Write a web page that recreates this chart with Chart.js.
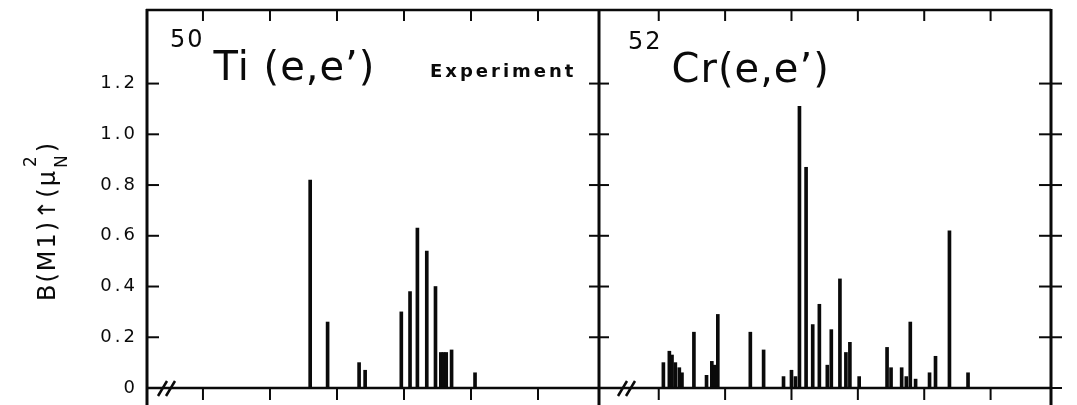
<!DOCTYPE html>
<html>
<head>
<meta charset="utf-8">
<script src="https://cdn.jsdelivr.net/npm/chart.js@4.4.0/dist/chart.umd.min.js"></script>
<style>
  html, body { margin: 0; padding: 0; background: #fff; }
  #wrap { position: relative; width: 1077px; height: 405px; overflow: hidden; background: #fff; }
  #ti { position: absolute; left: 0; top: 0; }
  #cr { position: absolute; left: 599px; top: 0; }
</style>
</head>
<body>
<div id="wrap">
  <canvas id="ti" width="620" height="405"></canvas>
  <canvas id="cr" width="478" height="405"></canvas>
</div>
<script>
// M1 strength distributions, excitation energy in MeV
const tiEnergy   = [8.60, 8.86, 9.33, 9.42, 9.96, 10.09, 10.20, 10.34, 10.47, 10.55, 10.59, 10.63, 10.71, 11.06];
const tiStrength = [0.82, 0.26, 0.10, 0.07, 0.30, 0.38, 0.63, 0.54, 0.40, 0.14, 0.14, 0.14, 0.15, 0.06];

const crEnergy   = [7.07, 7.16, 7.20, 7.25, 7.31, 7.35, 7.53, 7.72, 7.80, 7.84, 7.89, 8.38, 8.58,
                    8.88, 9.00, 9.06, 9.12, 9.22, 9.32, 9.42, 9.54, 9.60, 9.73, 9.82, 9.88, 10.02,
                    10.44, 10.50, 10.66, 10.73, 10.79, 10.87, 11.08, 11.17, 11.38, 11.66];
const crStrength = [0.10, 0.145, 0.13, 0.10, 0.08, 0.06, 0.22, 0.05, 0.105, 0.09, 0.29, 0.22, 0.15,
                    0.045, 0.07, 0.045, 1.11, 0.87, 0.25, 0.33, 0.09, 0.23, 0.43, 0.14, 0.18, 0.045,
                    0.16, 0.08, 0.08, 0.045, 0.26, 0.035, 0.06, 0.125, 0.62, 0.06];

const energyTicks   = [7, 8, 9, 10, 11, 12];
const strengthTicks = [0, 0.2, 0.4, 0.6, 0.8, 1.0, 1.2];

const ink = '#0a0a0a';
const font = '"DejaVu Sans", sans-serif';

function line(ctx, x1, y1, x2, y2) {
  ctx.beginPath();
  ctx.moveTo(x1, y1);
  ctx.lineTo(x2, y2);
  ctx.stroke();
}

// box, ticks and the "//" axis break, all placed from the chart's scales
function drawFrame(chart, panel) {
  const { ctx, chartArea: a, scales: { x, y } } = chart;
  const H = chart.height;
  const y0 = y.getPixelForValue(0);
  ctx.save();
  ctx.letterSpacing = '0px';
  ctx.strokeStyle = ink;
  ctx.lineCap = 'butt';

  ctx.lineWidth = 2.5;
  line(ctx, a.left, a.top, a.right, a.top);
  line(ctx, a.left, y0, a.right, y0);

  ctx.lineWidth = 2;
  energyTicks.forEach(e => {
    const px = x.getPixelForValue(e);
    line(ctx, px, a.top, px, a.top + 11);
    line(ctx, px, y0, px, y0 + 12);
  });

  ctx.lineWidth = 3;
  if (panel === 'left') {
    line(ctx, a.left + 1, a.top - 1, a.left + 1, H);
    line(ctx, a.right, a.top - 1, a.right, H);
    ctx.lineWidth = 2;
    strengthTicks.forEach(v => {
      const py = y.getPixelForValue(v);
      line(ctx, a.left, py, a.left + 13, py);
      line(ctx, a.right - 10, py, a.right + 10, py);
    });
  } else {
    line(ctx, a.right, a.top - 1, a.right, H);
    ctx.lineWidth = 2;
    strengthTicks.forEach(v => {
      const py = y.getPixelForValue(v);
      line(ctx, a.right - 12, py, a.right + 11, py);
    });
  }

  // axis break
  const bx = a.left + (panel === 'left' ? 12 : 19);
  ctx.lineWidth = 2.5;
  line(ctx, bx, y0 + 8, bx + 9, y0 - 7);
  line(ctx, bx + 8, y0 + 8, bx + 17, y0 - 7);
  ctx.restore();
}

function drawTitle(ctx, sup, main, x, base, spacing) {
  ctx.save();
  ctx.fillStyle = ink;
  ctx.textBaseline = 'alphabetic';
  ctx.textAlign = 'left';
  ctx.letterSpacing = '2px';
  ctx.font = '24px ' + font;
  ctx.fillText(sup, x, base - 33);
  const w = ctx.measureText(sup).width;
  ctx.letterSpacing = spacing;
  ctx.font = '40px ' + font;
  ctx.fillText(main, x + w + 9, base);
  ctx.restore();
}

function drawYTitle(ctx) {
  ctx.save();
  ctx.translate(55, 301);
  ctx.rotate(-Math.PI / 2);
  ctx.fillStyle = ink;
  ctx.textBaseline = 'alphabetic';
  ctx.textAlign = 'left';
  ctx.letterSpacing = '2px';
  ctx.font = '24px ' + font;
  const head = 'B(M1)\u2191(\u03bc';
  ctx.fillText(head, 0, 0);
  let cx = ctx.measureText(head).width + 1;
  ctx.letterSpacing = '0px';
  ctx.font = '17px ' + font;
  ctx.fillText('N', cx, 12);
  ctx.fillText('2', cx + 1, -19);
  cx += ctx.measureText('N').width + 3;
  ctx.font = '24px ' + font;
  ctx.fillText(')', cx, 0);
  ctx.restore();
}

const tiDecor = {
  id: 'tiDecor',
  beforeDraw(chart) { chart.ctx.letterSpacing = '3px'; },
  afterDraw(chart) {
    const { ctx, chartArea: a } = chart;
    drawFrame(chart, 'left');
    drawTitle(ctx, '50', 'Ti (e,e\u2019)', a.left + 24, 80, '1px');
    ctx.save();
    ctx.fillStyle = ink;
    ctx.font = 'bold 18px ' + font;
    ctx.letterSpacing = '3px';
    ctx.fillText('Experiment', a.left + 284, 77);
    ctx.restore();
    drawYTitle(ctx);
  }
};

const crDecor = {
  id: 'crDecor',
  afterDraw(chart) {
    drawFrame(chart, 'right');
    drawTitle(chart.ctx, '52', 'Cr(e,e\u2019)', chart.chartArea.left + 29, 82, '1px');
  }
};

function points(xs, ys) {
  return xs.map((e, i) => ({ x: e, y: ys[i] }));
}

function buildPanel(canvas, xs, ys, range, left) {
  return new Chart(canvas, {
    type: 'bar',
    data: {
      datasets: [{
        data: points(xs, ys),
        backgroundColor: ink,
        borderWidth: 0,
        barThickness: 3
      }]
    },
    options: {
      responsive: false,
      animation: false,
      devicePixelRatio: 1,
      layout: {
        padding: left
          ? { top: 10, right: 21, bottom: 17, left: 0 }
          : { top: 10, right: 26, bottom: 17, left: 0 }
      },
      plugins: {
        legend: { display: false },
        tooltip: { enabled: false }
      },
      scales: {
        x: {
          type: 'linear',
          offset: false,
          min: range[0],
          max: range[1],
          display: false
        },
        y: {
          min: 0,
          max: 1.49,
          display: left,
          afterFit: scale => {
            scale.width = left ? 146 : 0;
            scale.paddingTop = 0;
            scale.paddingBottom = 0;
          },
          afterBuildTicks: scale => {
            scale.ticks = strengthTicks.map(v => ({ value: v }));
          },
          grid: { display: false, drawTicks: false },
          border: { display: false },
          ticks: {
            padding: 8,
            color: ink,
            font: { family: 'DejaVu Sans', size: 18 },
            callback: v => (v === 0 ? '0' : v.toFixed(1))
          }
        }
      }
    },
    plugins: [left ? tiDecor : crDecor]
  });
}

buildPanel(document.getElementById('ti'), tiEnergy, tiStrength, [6.15, 12.91], true);
buildPanel(document.getElementById('cr'), crEnergy, crStrength, [6.10, 12.91], false);
</script>
</body>
</html>
